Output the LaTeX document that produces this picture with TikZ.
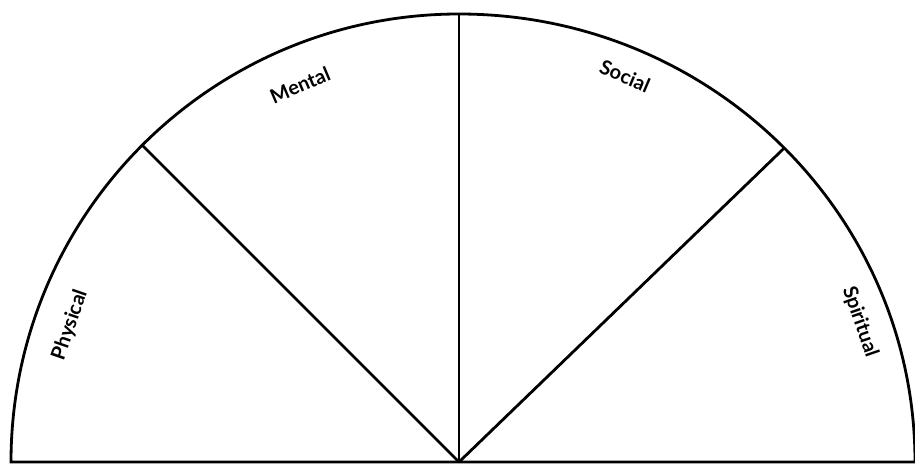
\documentclass[tikz,border=0pt]{standalone}
\usepackage{fontspec}
\setmainfont{Lato}
\usetikzlibrary{calc}
\begin{document}
\begin{tikzpicture}[x=1pt,y=1pt,
  edge/.style={line width=2.8pt, line join=miter},
  lbl/.style={font=\fontsize{20}{22}\selectfont\bfseries, inner sep=0pt}]
\useasboundingbox (0,0) rectangle (915,469);
\coordinate (O) at (459,7);
\coordinate (L) at (11,7);
\coordinate (T) at (459,455);
\coordinate (R) at (915,7);
\coordinate (PL) at ($(O)+(135:448)$);
\coordinate (PR) at (784.3,321);
\draw[edge] (L) arc[start angle=180,end angle=90,radius=448]
  arc[start angle=90,end angle=0,x radius=456,y radius=448] -- cycle;
\draw[edge] (O) -- (T);
\draw[edge] (O) -- (PL);
\draw[edge] (O) -- (PR);
\node[lbl, rotate=71] (phys) at (70,144) {Physical};
\node[lbl, rotate=23] (ment) at (300,384) {Mental};
\node[lbl, rotate=-23] (soc) at (625,393) {Social};
\node[lbl, rotate=-71] (spir) at (860,147) {Spiritual};
\end{tikzpicture}
\end{document}
